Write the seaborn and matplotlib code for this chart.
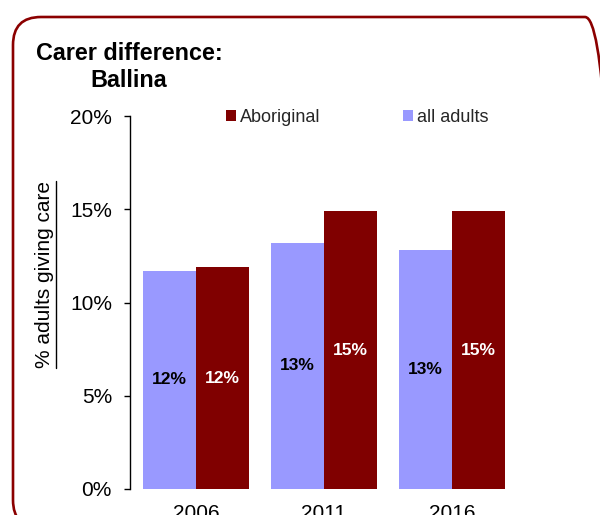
import matplotlib
matplotlib.use("Agg")
import matplotlib.pyplot as plt
from matplotlib.patches import FancyBboxPatch, Patch
from matplotlib.lines import Line2D
from matplotlib.transforms import IdentityTransform
import pandas as pd
import seaborn as sns

# Share of adults giving unpaid care, Ballina (census years)
years = ["2006", "2011", "2016"]
all_adults = [11.7, 13.2, 12.8]
aboriginal = [11.9, 14.9, 14.9]
y_ticks = [0, 5, 10, 15, 20]
y_tick_labels = ["0%", "5%", "10%", "15%", "20%"]

groups = ["all adults", "Aboriginal"]
colors = {"all adults": "#9999FF", "Aboriginal": "#800000"}
label_colors = {"all adults": "black", "Aboriginal": "white"}

df = pd.DataFrame({
    "year": years * 2,
    "pct": all_adults + aboriginal,
    "group": ["all adults"] * len(years) + ["Aboriginal"] * len(years),
})

sns.set_theme(style="white")
plt.rcParams["font.family"] = ["Liberation Sans", "DejaVu Sans"]

W, H = 600, 515
fig = plt.figure(figsize=(W / 100, H / 100), dpi=100)
fig.patch.set_facecolor("white")

left, right, top, bottom = 130, 518, 116, 489
ax = fig.add_axes([left / W, (H - bottom) / H, (right - left) / W, (bottom - top) / H])

sns.barplot(data=df, x="year", y="pct", hue="group", hue_order=groups,
            palette=colors, width=0.83, linewidth=0, saturation=1,
            legend=False, ax=ax)

for cont, g in zip(ax.containers, groups):
    vals = df.loc[df["group"] == g, "pct"].tolist()
    ax.bar_label(cont, labels=[f"{round(v):d}%" for v in vals],
                 label_type="center", color=label_colors[g],
                 fontsize=12.5, fontweight="bold")

ax.set_ylim(0, 20)
ax.set_xlim(-0.516, 2.516)
ax.set_yticks(y_ticks)
ax.set_yticklabels(y_tick_labels)
ax.set_xlabel("")
ax.set_ylabel("")
for s in ["top", "right", "bottom"]:
    ax.spines[s].set_visible(False)
ax.spines["left"].set_color("black")
ax.spines["left"].set_linewidth(1.0)
ax.tick_params(axis="y", which="major", left=True, length=4, width=1,
               color="black", direction="out", pad=9, labelsize=15, labelcolor="black")
ax.tick_params(axis="x", length=0, pad=11, labelsize=15, labelcolor="black")
ax.grid(False)

# Y-axis title, underlined
ylab = fig.text(45 / W, 1 - 274 / H, "% adults giving care",
                rotation=90, ha="center", va="center", fontsize=15, color="black")

# Chart title
fig.text(129 / W, 1 - 42 / H, "Carer difference:\nBallina", ha="center", va="top",
         multialignment="center", fontsize=16.8, fontweight="bold", color="black",
         linespacing=1.2)

# Legend: Aboriginal first, then all adults
handles = [Patch(facecolor=colors["Aboriginal"], edgecolor="none"),
           Patch(facecolor=colors["all adults"], edgecolor="none")]
leg = fig.legend(handles, ["Aboriginal", "all adults"], ncol=2,
                 loc="center left", bbox_to_anchor=(226 / W, 1 - 117 / H),
                 frameon=False, borderpad=0, borderaxespad=0,
                 handlelength=0.55, handleheight=0.55, handletextpad=0.22,
                 columnspacing=4.6,
                 prop={"family": ["Liberation Sans"], "size": 13})

# Rounded frame around the chart
frame = FancyBboxPatch((13, H - 528), 600, 511,
                       boxstyle="round,pad=0,rounding_size=28",
                       transform=IdentityTransform(), facecolor="none",
                       edgecolor="#8B0000", linewidth=1.9, clip_on=False)
fig.add_artist(frame)

# Underline beneath the rotated y title (right side of the rotated text)
fig.canvas.draw()
bb = ylab.get_window_extent(renderer=fig.canvas.get_renderer())
ux = bb.x1 + 1
fig.add_artist(Line2D([ux, ux], [bb.y0, bb.y1], transform=IdentityTransform(),
                      color="black", linewidth=1.0))

fig.savefig("out.png", dpi=100, facecolor="white")
